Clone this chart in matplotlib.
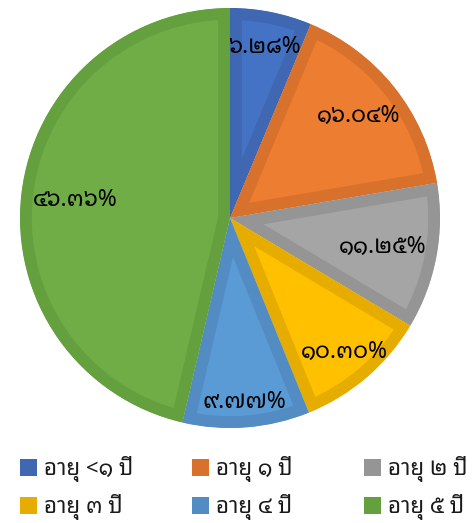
import matplotlib
matplotlib.use('Agg')
import matplotlib.pyplot as plt
from matplotlib.patches import Patch, Wedge
import numpy as np

plt.rcParams['font.family'] = ['Noto Sans Thai Looped', 'DejaVu Sans']

categories = ['อายุ <๑ ปี', 'อายุ ๑ ปี', 'อายุ ๒ ปี', 'อายุ ๓ ปี', 'อายุ ๔ ปี', 'อายุ ๕ ปี']
values = [6.28, 16.04, 11.25, 10.30, 9.77, 46.36]
value_labels = ['๖.๒๘%', '๑๖.๐๔%', '๑๑.๒๕%', '๑๐.๓๐%', '๙.๗๗%', '๔๖.๓๖%']
fill_colors = ['#4472C4', '#ED7D31', '#A5A5A5', '#FFC000', '#5B9BD5', '#70AD47']
edge_colors = ['#3F67B2', '#D8712C', '#959595', '#E6AD00', '#528CC2', '#65A03F']
label_dist = [0.83, 0.78, 0.74, 0.84, 0.88, 0.74]

fig = plt.figure(figsize=(4.76, 5.23), dpi=100)
ax = fig.add_axes([20 / 476, 95 / 523, 420 / 476, 420 / 523])

wedges, _ = ax.pie(values, colors=fill_colors, startangle=90, counterclock=False,
                   radius=1, wedgeprops=dict(linewidth=17))
ax.set_xlim(-1, 1)
ax.set_ylim(-1, 1)
ax.set_aspect('equal')
ax.axis('off')

# keep the border inside each slice (pie turns clipping off)
for w, ec in zip(wedges, edge_colors):
    w.set_edgecolor(ec)
    w.set_clip_on(True)
    clip = Wedge(w.center, w.r, w.theta1, w.theta2, transform=ax.transData)
    w.set_clip_path(clip)

# data labels placed along the wedge mid angle
for w, txt, d in zip(wedges, value_labels, label_dist):
    ang = np.deg2rad((w.theta1 + w.theta2) / 2)
    ax.text(d * np.cos(ang), d * np.sin(ang), txt, ha='center', va='center',
            fontsize=16.5, fontweight='bold', color='black')

# one legend per column, entries read row by row
col_x = [20 / 476, 192 / 476, 364 / 476]
for c in range(3):
    idx = [c, c + 3]
    leg = fig.legend([Patch(facecolor=edge_colors[i], edgecolor='none') for i in idx],
                     [categories[i] for i in idx],
                     loc='upper left', bbox_to_anchor=(col_x[c], (523 - 456) / 523),
                     frameon=False, fontsize=16, handlelength=0.77, handleheight=0.77,
                     handletextpad=0.3, labelspacing=0.55, labelcolor='#1a1a1a',
                     borderpad=0, borderaxespad=0)

fig.savefig('out.png', dpi=100)
